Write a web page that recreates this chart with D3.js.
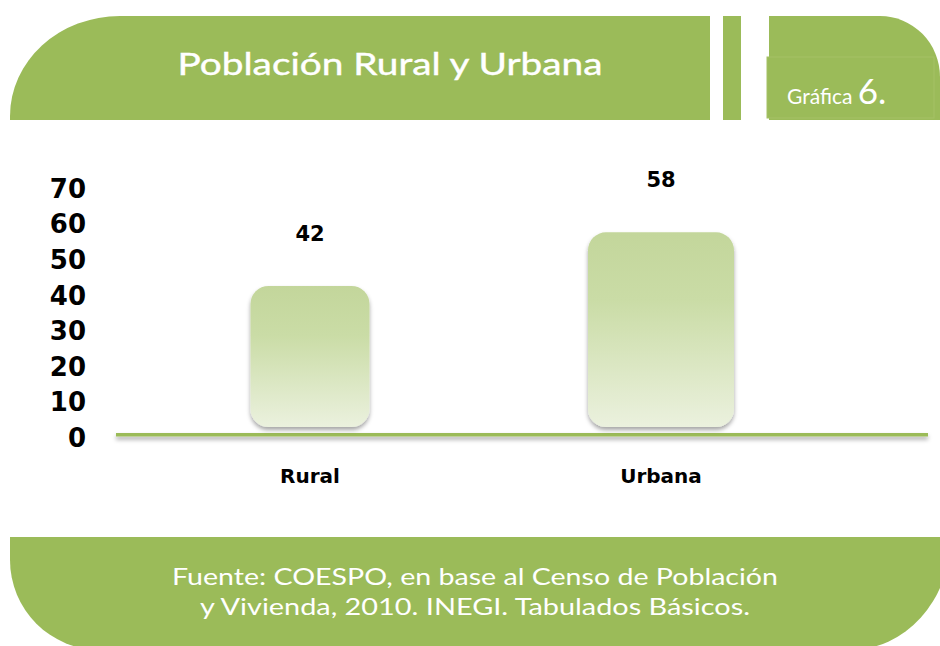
<!DOCTYPE html>
<html>
<head>
<meta charset="utf-8">
<script src="https://cdn.jsdelivr.net/npm/d3@7"></script>
<style>
  body { margin: 0; background: #fff; }
  svg { display: block; }
</style>
</head>
<body>
<div id="chart"></div>
<script>
// data
const categories = ['Rural', 'Urbana']
const values = [42, 58]
const tickValues = [0, 10, 20, 30, 40, 50, 60, 70]
const title = 'Población Rural y Urbana'
const sourceLines = ['Fuente: COESPO, en base al Censo de Población', 'y Vivienda, 2010. INEGI. Tabulados Básicos.']

const W = 940, H = 646
const green = '#9bbb59'
const barWidth = { Rural: 119, Urbana: 146 }

let svg = d3.select('#chart').append('svg')
  .attr('width', W)
  .attr('height', H)

let defs = svg.append('defs')
let grad = defs.append('linearGradient')
  .attr('id', 'barGrad')
  .attr('x1', 0).attr('y1', 0).attr('x2', 0).attr('y2', 1)
grad.append('stop').attr('offset', '0%').attr('stop-color', '#c3d69b')
grad.append('stop').attr('offset', '35%').attr('stop-color', '#cadca6')
grad.append('stop').attr('offset', '100%').attr('stop-color', '#ebf1de')

let shadow = defs.append('filter').attr('id', 'shadow')
  .attr('filterUnits', 'userSpaceOnUse')
  .attr('x', 0).attr('y', 0).attr('width', W).attr('height', H)
shadow.append('feDropShadow')
  .attr('dx', 0).attr('dy', 3).attr('stdDeviation', 2)
  .attr('flood-color', '#000').attr('flood-opacity', 0.35)

// header shapes
svg.append('path')
  .attr('d', 'M10,120 L10,116 A110,100 0 0 1 120,16 L710,16 L710,120 Z')
  .attr('fill', green)
svg.append('rect').attr('x', 723).attr('y', 16).attr('width', 18).attr('height', 104).attr('fill', green)
svg.append('path')
  .attr('d', 'M769,120 L769,16 L880,16 A60,61 0 0 1 940,77 L940,120 Z')
  .attr('fill', green)
svg.append('rect')
  .attr('x', 767).attr('y', 57).attr('width', 167).attr('height', 61)
  .attr('fill', green).attr('stroke', '#a5c166').attr('stroke-width', 1)

svg.append('text')
  .attr('x', 390).attr('y', 75)
  .attr('text-anchor', 'middle')
  .attr('font-family', 'Lato, "Open Sans", sans-serif')
  .attr('font-weight', 400)
  .attr('font-size', 31)
  .attr('fill', '#fff')
  .attr('stroke', '#fff').attr('stroke-width', 0.4)
  .attr('textLength', 425)
  .attr('lengthAdjust', 'spacingAndGlyphs')
  .text(title)

let gtxt = svg.append('text')
  .attr('x', 787).attr('y', 104)
  .attr('font-family', 'Lato, "Open Sans", sans-serif')
  .attr('fill', '#fff')
gtxt.append('tspan').attr('font-size', 21).text('Gráfica ')
gtxt.append('tspan').attr('font-size', 35).text('6.')

// footer
svg.append('path')
  .attr('d', 'M10,537 L950,537 L950,540 A100,110 0 0 1 850,650 L100,650 A90,90 0 0 1 10,560 Z')
  .attr('fill', green)

svg.append('g').selectAll('text')
  .data(sourceLines)
  .enter()
  .append('text')
  .attr('x', 475)
  .attr('y', (d, i) => 585 + i * 30)
  .attr('text-anchor', 'middle')
  .attr('font-family', 'Lato, "Open Sans", sans-serif')
  .attr('font-size', 24)
  .attr('fill', '#fff')
  .attr('textLength', (d, i) => i === 0 ? 606 : 550)
  .attr('lengthAdjust', 'spacingAndGlyphs')
  .text(d => d)

// scales
let x = d3.scalePoint()
  .domain(categories)
  .range([134.5, 836.5])
  .padding(0.5)

let y = d3.scaleLinear()
  .domain([0, 70])
  .range([427, 192])

let yLabels = d3.scaleLinear()
  .domain([0, 70])
  .range([437, 188])

// y axis labels
let yAxis = svg.append('g')
  .attr('transform', 'translate(86,0)')
  .call(d3.axisLeft(yLabels).tickValues(tickValues).tickSize(0).tickPadding(0))
yAxis.select('.domain').remove()
yAxis.selectAll('text')
  .attr('font-family', '"DejaVu Sans", sans-serif')
  .attr('font-weight', 'bold')
  .attr('font-size', 26)
  .attr('fill', '#000')
  .attr('dy', '0.36em')

// baseline
svg.append('rect')
  .attr('x', 116).attr('width', 812)
  .attr('y', 433).attr('height', 3.5)
  .attr('fill', green)
  .attr('filter', 'url(#shadow)')

// bars
let data = categories.map((c, i) => ({ cat: c, val: values[i] }))

svg.append('g').selectAll('rect')
  .data(data)
  .enter()
  .append('rect')
  .attr('x', d => x(d.cat) - barWidth[d.cat] / 2)
  .attr('y', d => y(d.val))
  .attr('width', d => barWidth[d.cat])
  .attr('height', d => y(0) - y(d.val))
  .attr('rx', 18).attr('ry', 18)
  .attr('fill', 'url(#barGrad)')
  .attr('filter', 'url(#shadow)')

// value labels
svg.append('g').selectAll('text')
  .data(data)
  .enter()
  .append('text')
  .attr('x', d => x(d.cat))
  .attr('y', d => y(d.val) - 45)
  .attr('text-anchor', 'middle')
  .attr('font-family', '"DejaVu Sans", sans-serif')
  .attr('font-weight', 'bold')
  .attr('font-size', 21)
  .attr('fill', '#000')
  .text(d => d.val)

// category labels
svg.append('g').selectAll('text')
  .data(categories)
  .enter()
  .append('text')
  .attr('x', d => x(d))
  .attr('y', 483)
  .attr('text-anchor', 'middle')
  .attr('font-family', '"DejaVu Sans", sans-serif')
  .attr('font-weight', 'bold')
  .attr('font-size', 20)
  .attr('fill', '#000')
  .text(d => d)
</script>
</body>
</html>
